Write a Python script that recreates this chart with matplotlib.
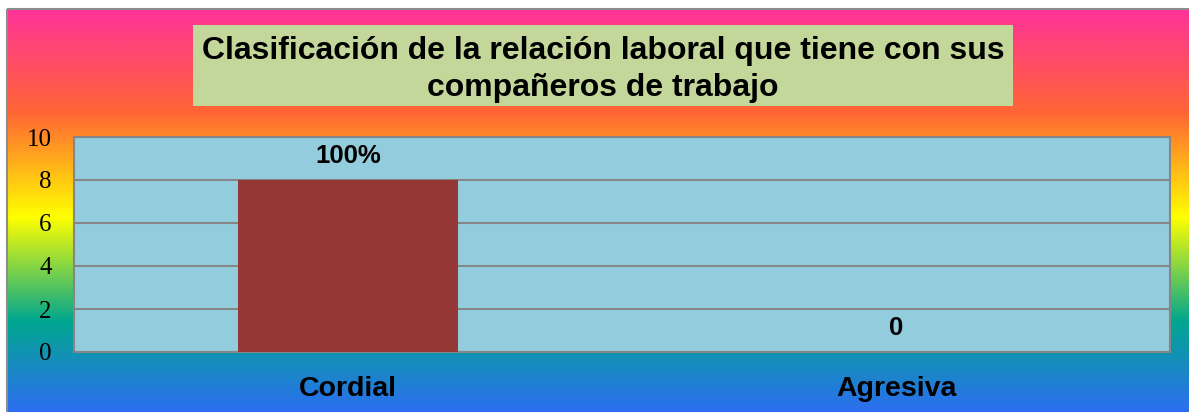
import numpy as np
import matplotlib
matplotlib.use("Agg")
import matplotlib.pyplot as plt
from matplotlib.colors import LinearSegmentedColormap
from matplotlib.patches import Rectangle

# Chart data
categories = ["Cordial", "Agresiva"]
values = [8, 0]
value_labels = ["100%", "0"]
y_ticks = [0, 2, 4, 6, 8, 10]
title = "Clasificación de la relación laboral que tiene con sus\ncompañeros de trabajo"

W, H = 1189, 412
fig = plt.figure(figsize=(W / 100, H / 100), dpi=100)
fig.patch.set_facecolor("white")

# Background layer in pixel coordinates
bg = fig.add_axes([0, 0, 1, 1], zorder=0)
bg.set_xlim(0, W)
bg.set_ylim(H, 0)
bg.axis("off")

rainbow = LinearSegmentedColormap.from_list(
    "rainbow_fill",
    [(0.0, "#FF3399"), (0.25, "#FF6633"), (0.5, "#FFFF00"),
     (0.75, "#01A78F"), (1.0, "#3366FF")],
)
grad = np.linspace(0, 1, 512).reshape(-1, 1)
bg.imshow(grad, cmap=rainbow, aspect="auto", extent=(7, W + 5, 425, 9),
          interpolation="bilinear", zorder=0)
bg.add_patch(Rectangle((7, 9), W + 10, 430, fill=False,
                       edgecolor="#8C8C8C", linewidth=1.5, zorder=1))

# Title box
bg.add_patch(Rectangle((193, 25), 820, 81, facecolor="#C4D79B",
                       edgecolor="none", zorder=2))
bg.text(603, 69.5, title, ha="center", va="center", fontsize=23,
        fontweight="bold", family="Liberation Sans", color="black",
        linespacing=1.3, zorder=3)

# Plot area
left, right, top, bottom = 74, 1170, 137, 352
ax = fig.add_axes([left / W, 1 - bottom / H, (right - left) / W, (bottom - top) / H],
                  zorder=1)
ax.set_facecolor("#93CDDD")
x = np.arange(len(categories))
ax.bar(x, values, width=0.4, color="#953735", zorder=3)
ax.set_xlim(-0.5, len(categories) - 0.5)
ax.set_ylim(0, 10)
ax.set_yticks(y_ticks)
ax.set_yticklabels([str(t) for t in y_ticks], family="Liberation Serif",
                   fontsize=18)
ax.yaxis.grid(True, color="#868686", linewidth=1.5, zorder=1)
ax.set_axisbelow(True)
ax.tick_params(axis="y", length=0, pad=16)
ax.tick_params(axis="x", length=0, pad=17)
ax.set_xticks(x)
ax.set_xticklabels(categories, fontsize=20.5, fontweight="bold",
                   family="Liberation Sans")
for s in ax.spines.values():
    s.set_color("#868686")
    s.set_linewidth(1.5)

for xi, v, lab in zip(x, values, value_labels):
    ax.annotate(lab, (xi, v), xytext=(0, 24), textcoords="offset pixels",
                ha="center", va="center", fontsize=18.5, fontweight="bold",
                family="Liberation Sans", color="black", zorder=4)

fig.savefig("out.png", dpi=100)
